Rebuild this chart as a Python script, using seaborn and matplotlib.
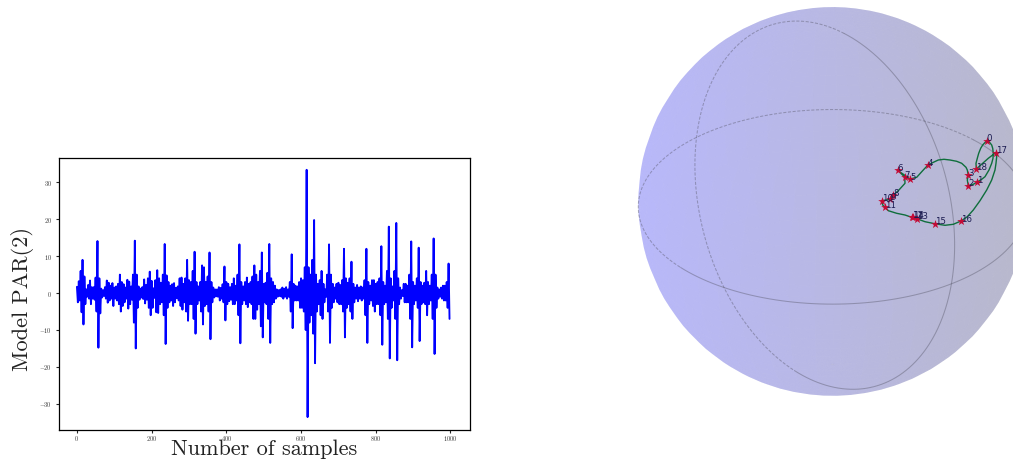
import numpy as np
import matplotlib
matplotlib.use("Agg")
import matplotlib.pyplot as plt
from matplotlib.colors import LightSource
import seaborn as sns

# Envelope of the PAR(2) signal, one value every 5 samples
par_upper = [
    1.7, 3.2, 6, 9, 4.5, 1, 2.2, 3.4, 1.6, 1.6, 4.2, 14.1, 4, 1.2, 0.8, 1.6,
    3.4, 2.8, 2, 2.7, 1.5, 1.8, 2.5, 5, 3, 2.4, 1.5, 3.6, 3.1, 1.8, 5, 14.2,
    5, 1.8, 1.2, 1.6, 3.7, 2.2, 4, 5.8, 3.3, 1.3, 3.5, 6.2, 4, 2.8, 5, 13.3,
    4.8, 3, 2, 2.4, 2.7, 1.4, 1.8, 4, 4.2, 2.5, 4, 9, 3.5, 3, 6, 11.2,
    3, 1.8, 3, 7.5, 7, 3, 4.5, 11, 3, 1.5, 1, 1, 1.6, 1.4, 2.4, 7.2,
    3, 2.5, 1.6, 2.5, 4, 2, 5, 13.2, 3, 1.8, 3, 4.2, 2.5, 3, 4.5, 7.5,
    5, 3, 6, 11, 2.5, 2.8, 5.5, 13.3, 4, 3, 2, 1, 0.8, 1, 1.5, 1.2,
    1.6, 1, 3, 10.5, 2.5, 2, 1.8, 3, 4, 3.5, 7, 33.4, 7, 5, 9, 19.8,
    5, 2.5, 3.5, 6, 2.5, 1, 5, 13.2, 5, 2.5, 1.5, 2.5, 2.8, 2.2, 3.5, 12,
    4, 2.8, 4, 8.5, 2.5, 1.5, 2.2, 1.5, 1.8, 1.5, 3.5, 12, 3, 2, 3.5, 3.5,
    2.5, 3, 4, 12.7, 3, 2, 6, 18, 4, 1.8, 6, 19, 4, 1.5, 0.8, 2.5,
    2.5, 2, 5, 14, 3, 2, 4, 12.3, 3, 2, 2.8, 6, 3, 2, 5, 14.8,
    5, 1.5, 1, 1.5, 2, 2, 3, 8,
]
par_lower = [
    -2.5, -2, -5.2, -8.5, -3, -1, -1.5, -3, -1.5, -1.8, -5, -14.8, -5.5, -1.2, -0.8, -1.5,
    -2.6, -2, -1.5, -3.5, -1.5, -2, -3, -5, -3.5, -2.5, -1.5, -4.2, -3, -1.8, -8, -15,
    -4, -1.8, -1.2, -1.6, -2.8, -1.8, -4, -6, -4, -1.3, -5.2, -5.4, -3, -2.5, -6, -13.8,
    -4, -2.5, -2, -3.5, -2.5, -1.4, -2, -3.5, -4.5, -2.5, -5, -7.5, -3, -3, -7, -11,
    -3, -2, -5, -8.5, -3.5, -3, -5, -12.5, -2.5, -1.2, -0.9, -1, -2, -1.5, -2.5, -7.4,
    -3, -2.2, -1.8, -3, -3, -2, -6, -13.6, -3, -2, -3, -3.8, -2.5, -3, -7, -7,
    -4.5, -3, -9, -12, -2.5, -3, -7, -13.5, -3, -2.5, -1.5, -1, -0.8, -1, -1.5, -1,
    -1.5, -1, -5, -9.5, -2, -2, -2, -4, -4, -5, -10, -33.6, -8, -6, -11, -19,
    -5, -3, -6, -7, -2.5, -1, -5, -13.5, -4, -2.5, -1.5, -2.5, -3, -3, -5, -12,
    -4, -3, -5, -7, -2.5, -1.5, -2.2, -1.5, -2, -1.5, -6, -13.5, -3, -2, -3.5, -5,
    -3, -3, -6, -14, -3, -2.5, -7, -17.7, -4, -2, -7, -18.2, -3, -1.5, -0.8, -2.5,
    -2.5, -2.5, -7, -14.7, -3, -2, -4, -13, -3, -2.5, -3, -6, -3, -2, -7, -16.5,
    -4, -1.5, -1, -1.5, -2, -2, -4, -7,
]
x_ticks = [0, 200, 400, 600, 800, 1000]
y_ticks = [-30, -20, -10, 0, 10, 20, 30]

# Bloch sphere trajectory, in picture units from the sphere centre
point_labels = ["0", "1", "2", "3", "4", "5", "6", "7", "8", "9", "10", "11", "12", "13", "14", "15", "16", "17", "18"]
point_x = [155.2, 145.2, 136.8, 136.8, 96.5, 78.5, 66.2, 73.2, 61.5, 58.8, 50.2, 53.8, 80.2, 85.2, 81.8, 103.2, 129.5, 164.2, 144.8]
point_y = [60.8, 19.2, 15.8, 26.5, 36.5, 22.5, 31.2, 24.5, 6.2, 2.2, 0.8, -5.8, -15.8, -17.2, -15.8, -22.2, -19.5, 48.8, 32.5]
track_x = [155.2, 157.8, 160.2, 161.2, 161.8, 161.5, 160.2, 157.5, 153.5, 150.2, 145.2, 141.8, 136.8, 135.8, 136.8,
           135.8, 134.5, 130.2, 125.2, 118.5, 112.5, 106.8, 102.5, 96.5, 91.8, 85.2, 78.5, 66.2, 73.2, 73.5, 66.8,
           61.5, 58.8, 50.2, 51.2, 53.8, 56.8, 65.2, 73.5, 80.2, 81.8, 85.2, 93.5, 103.2, 113.5, 121.8, 129.5,
           135.8, 141.8, 148.5, 155.2, 160.2, 163.5, 164.5, 165.2, 164.2, 156.8, 144.8, 144.5, 145.8, 147.2, 149.2,
           151.2, 155.2]
track_y = [60.8, 59.5, 56.5, 53.2, 48.2, 43.2, 38.2, 31.5, 24.8, 22.2, 19.2, 17.2, 15.8, 21.5, 26.5,
           31.5, 34.2, 38.2, 40.2, 41.5, 42.2, 41.5, 39.5, 36.5, 31.5, 24.2, 22.5, 31.2, 24.5, 18.2, 10.8,
           6.2, 2.2, 0.8, -3.5, -5.8, -9.2, -11.8, -13.5, -15.8, -15.8, -17.2, -20.2, -22.2, -23.8, -22.8, -19.5,
           -15.2, -8.5, 0.8, 11.5, 21.5, 31.5, 38.2, 44.8, 48.8, 43.2, 32.5, 38.2, 43.2, 48.2, 53.2,
           56.5, 60.8]

sns.set_style("white")
plt.rcParams["font.family"] = ["cmr10", "DejaVu Sans"]
plt.rcParams["mathtext.fontset"] = "cm"
plt.rcParams["axes.formatter.use_mathtext"] = True
plt.rcParams["axes.unicode_minus"] = False

W, H = 1013, 465
fig = plt.figure(figsize=(W / 100, H / 100), dpi=100)

# Left panel
ax = fig.add_axes([59 / W, (H - 430) / H, 410.5 / W, 272 / H])
samples = np.arange(0, 1000, 2.5)
par_values = np.column_stack([par_upper, par_lower]).ravel()
sns.lineplot(x=samples, y=par_values, color="blue", linewidth=1.35, estimator=None, sort=False, ax=ax)
ax.set_xlim(-48, 1051)
ax.set_ylim(-37.1, 36.6)
ax.set_xticks(x_ticks)
ax.set_xticklabels([f"${t}$" for t in x_ticks])
ax.set_yticks(y_ticks)
ax.set_yticklabels([f"${t}$" for t in y_ticks])
ax.tick_params(labelsize=4.5, length=2, width=0.8, left=True, bottom=True, labelcolor="#333333")
ax.tick_params(axis="x", pad=1)
ax.tick_params(axis="y", pad=3)
for spine in ax.spines.values():
    spine.set_color("black")
    spine.set_linewidth(0.9)
ax.set_xlabel("Number of samples", fontsize=16, color="#222222", labelpad=-3)
ax.set_ylabel("Model PAR(2)", fontsize=16, color="#222222", labelpad=3.5, y=0.48)

# Right panel: sphere with the two frame circles
side = 560
ax3 = fig.add_axes([(825 - side / 2) / W, (H - 209 - side / 2) / H, side / W, side / H], projection="3d")
ax3.set_proj_type("persp")
ax3.view_init(elev=30, azim=49)
ax3.set_xlim(-1, 1)
ax3.set_ylim(-1, 1)
ax3.set_zlim(-1, 1)
ax3.set_box_aspect((1, 1, 1), zoom=1.165)
ax3.set_axis_off()
ax3.patch.set_alpha(0)
ax3.computed_zorder = False

u = np.linspace(0, 2 * np.pi, 50)
v = np.linspace(0, np.pi, 50)
sx = np.outer(np.cos(u), np.sin(v))
sy = np.outer(np.sin(u), np.sin(v))
sz = np.outer(np.ones_like(u), np.cos(v))
surf = ax3.plot_surface(sx, sy, sz, rstride=1, cstride=1, color="#0000f0", alpha=0.15, linewidth=0, zorder=1,
                        lightsource=LightSource(azdeg=131, altdeg=0))
surf.set_edgecolor("none")

t_front = np.linspace(0, np.pi, 100)
t_back = np.linspace(np.pi, 2 * np.pi, 100)
frame = dict(color="#555566", alpha=0.42, linewidth=0.75, zorder=2)
dashed = (0, (3, 1.5))
ax3.plot(np.cos(t_front), np.sin(t_front), 0 * t_front, **frame)
ax3.plot(np.cos(t_back), np.sin(t_back), 0 * t_back, linestyle=dashed, **frame)


# The upright circle sits a little off centre and leans slightly in the reference
def upright_ring(t):
    a = t - np.pi / 2
    return 0.095 - 0.098 * np.sin(a), np.cos(a) + 0.085 * np.sin(a), np.sin(a)


ax3.plot(*upright_ring(t_front), **frame)
ax3.plot(*upright_ring(t_back), linestyle=dashed, **frame)

# Trajectory overlay, one data unit is one pixel
ov = fig.add_axes([0, 0, 1, 1], facecolor="none")
ov.set_xlim(-831.5, W - 831.5)
ov.set_ylim(-(H - 201.5), 201.5)
ov.set_axis_off()
sns.lineplot(x=track_x, y=track_y, color="#0f6e3c", linewidth=1.0, estimator=None, sort=False, ax=ov)
sns.scatterplot(x=point_x, y=point_y, color="#c40a35", marker="*", s=42, linewidth=0, zorder=3, ax=ov)
for label, px, py in zip(point_labels, point_x, point_y):
    ov.text(px, py + 2, label, fontsize=6.2, family="DejaVu Sans", color="#1a1a50", ha="left", va="center", zorder=4)

fig.savefig("out.png", dpi=100)
